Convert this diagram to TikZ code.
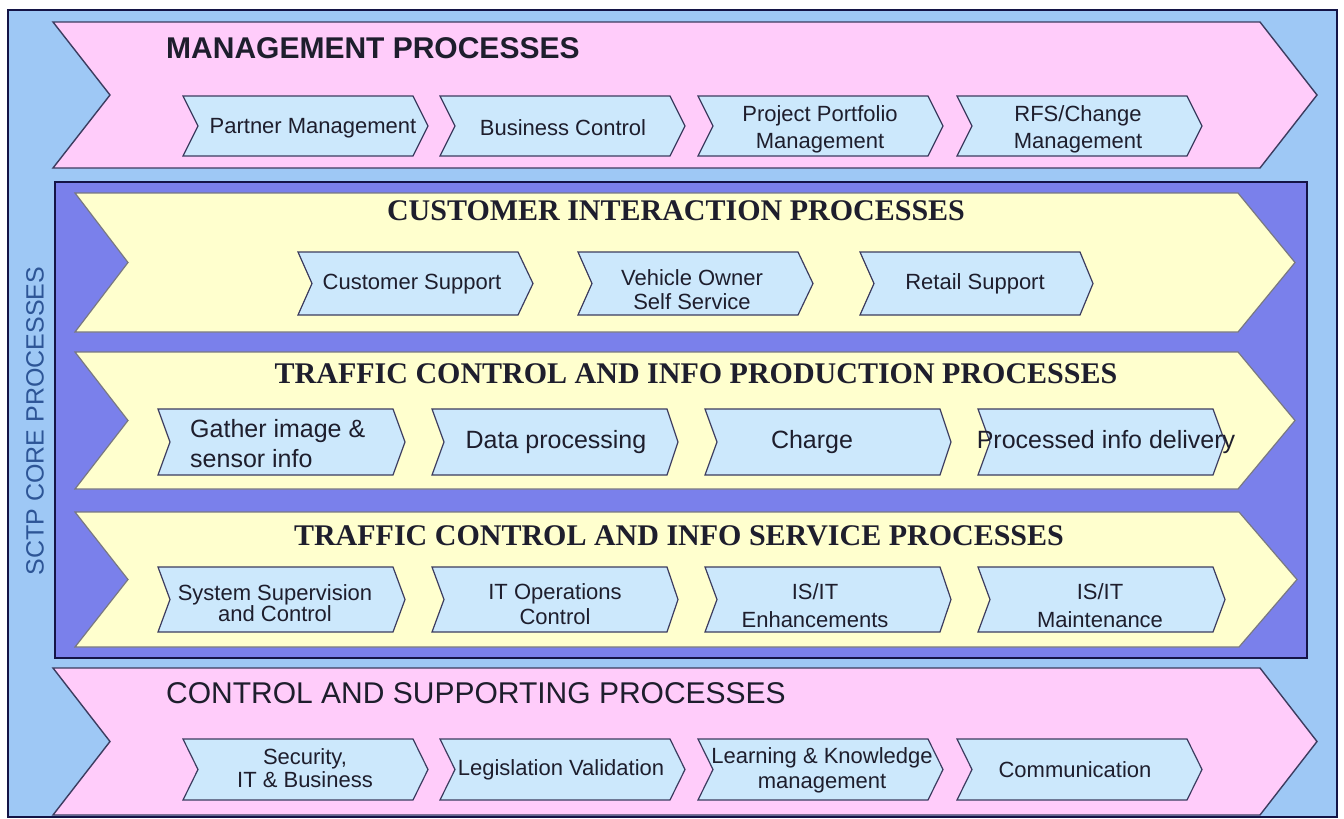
\documentclass[tikz,border=0pt]{standalone}
\usepackage{fontspec}
\setmainfont{Liberation Serif}
\setsansfont{Liberation Sans}
\definecolor{outerblue}{RGB}{158,200,245}
\definecolor{coreblue}{RGB}{122,128,235}
\definecolor{navy}{RGB}{20,20,70}
\definecolor{pinkband}{RGB}{255,204,250}
\definecolor{yellowband}{RGB}{255,255,206}
\definecolor{subfill}{RGB}{204,232,252}
\definecolor{edge}{RGB}{60,60,95}
\definecolor{yedge}{RGB}{120,120,130}
\definecolor{txt}{RGB}{30,30,45}
\definecolor{sctp}{RGB}{45,85,150}
% #1 style, #2 L, #3 R, #4 T, #5 B, #6 tip depth, #7 notch depth
\newcommand\chev[7][]{\draw[#1] (#2,#4) -- (#3,#4) -- ({#3+#6},{(#4+#5)/2}) -- (#3,#5) -- (#2,#5) -- ({#2+#7},{(#4+#5)/2}) -- cycle;}
\tikzset{
  pinkchev/.style={fill=pinkband, draw=edge, line width=1.4pt, line join=miter},
  yellowchev/.style={fill=yellowband, draw=yedge, line width=1.2pt},
  subchev/.style={fill=subfill, draw=edge, line width=1.2pt},
  sanstitle/.style={font=\sffamily\fontsize{30pt}{36pt}\selectfont, text=txt, inner sep=0pt},
  seriftitle/.style={font=\rmfamily\bfseries\fontsize{30pt}{36pt}\selectfont, text=txt, inner sep=0pt},
  subtxt/.style={font=\sffamily\fontsize{22pt}{27pt}\selectfont, text=txt, align=center, inner sep=0pt},
  subtxtb/.style={font=\sffamily\fontsize{25pt}{30pt}\selectfont, text=txt, align=center, inner sep=0pt},
}
\begin{document}
\begin{tikzpicture}[x=1pt,y=-1pt]
\useasboundingbox (0,0) rectangle (1344,819);
\fill[white] (0,0) rectangle (1344,819);
% outer frame
\draw[fill=outerblue, draw=navy, line width=2pt] (8,10) rectangle (1337,817);
% management band
\chev[pinkchev]{53}{1260}{22}{168}{57}{57}
\chev[subchev]{183}{413}{96}{156}{15}{15}
\chev[subchev]{440}{670}{96}{156}{15}{15}
\chev[subchev]{698}{928}{96}{156}{15}{15}
\chev[subchev]{957}{1187}{96}{156}{15}{15}
\node[sanstitle, font=\sffamily\bfseries\fontsize{30pt}{36pt}\selectfont, anchor=base west] (mgmt) at (166,58) {MANAGEMENT PROCESSES};
\node[subtxt] (pm) at (313,128) {Partner Management};
\node[subtxt] (bc) at (563,128) {Business Control};
\node[subtxt] (ppm) at (820,129) {Project Portfolio\\Management};
\node[subtxt] (rfs) at (1078,129) {RFS/Change\\Management};
% core box
\draw[fill=coreblue, draw=navy, line width=2pt] (55,182) rectangle (1307,658);
\node[font=\sffamily\fontsize{25pt}{30pt}\selectfont, text=sctp, rotate=90, inner sep=0pt] (core) at (35,421) {SCTP CORE PROCESSES};
% customer interaction
\chev[yellowchev]{75}{1238}{193}{332}{57}{53}
\chev[subchev]{298}{518}{252}{315}{15}{14}
\chev[subchev]{578}{798}{252}{315}{15}{14}
\chev[subchev]{860}{1080}{252}{315}{13}{14}
\node[seriftitle, anchor=base] (cust) at (676,220) {CUSTOMER INTERACTION PROCESSES};
\node[subtxt] (cs) at (412,284) {Customer Support};
\node[subtxt, font=\sffamily\fontsize{22pt}{24pt}\selectfont] (vo) at (692,290) {Vehicle Owner\\Self Service};
\node[subtxt] (rs) at (975,284) {Retail Support};
% production
\chev[yellowchev]{75}{1238}{352}{489}{57}{53}
\chev[subchev]{158}{393}{409}{475}{12}{12}
\chev[subchev]{432}{667}{409}{475}{11}{12}
\chev[subchev]{705}{940}{409}{475}{11}{12}
\chev[subchev]{978}{1213}{409}{475}{12}{12}
\node[seriftitle, anchor=base] (prod) at (696,383) {TRAFFIC CONTROL AND INFO PRODUCTION PROCESSES};
\node[subtxtb, align=left, anchor=west] (gi) at (190,444) {Gather image \&\\sensor info};
\node[subtxtb] (dp) at (556,442) {Data processing};
\node[subtxtb] (ch) at (812,442) {Charge};
\node[subtxtb] (pid) at (1106,442) {Processed info delivery};
% service
\chev[yellowchev]{75}{1239}{512}{647}{58}{53}
\chev[subchev]{158}{393}{567}{632}{12}{12}
\chev[subchev]{432}{667}{567}{632}{11}{12}
\chev[subchev]{705}{940}{567}{632}{11}{12}
\chev[subchev]{978}{1213}{567}{632}{12}{12}
\node[seriftitle, anchor=base] (serv) at (679,545) {TRAFFIC CONTROL AND INFO SERVICE PROCESSES};
\node[subtxt, font=\sffamily\fontsize{22pt}{16pt}\selectfont] (ssc) at (275,603) {System Supervision\\and Control};
\node[subtxt, font=\sffamily\fontsize{22pt}{25pt}\selectfont] (itoc) at (555,604) {IT Operations\\Control};
\node[subtxt, font=\sffamily\fontsize{22pt}{28pt}\selectfont] (isite) at (815,606) {IS/IT\\Enhancements};
\node[subtxt, font=\sffamily\fontsize{22pt}{28pt}\selectfont] (isitm) at (1100,606) {IS/IT\\Maintenance};
% control and supporting
\chev[pinkchev]{53}{1260}{668}{815}{57}{57}
\chev[subchev]{183}{413}{739}{800}{15}{15}
\chev[subchev]{440}{670}{739}{800}{15}{15}
\chev[subchev]{698}{928}{739}{800}{15}{15}
\chev[subchev]{957}{1187}{739}{800}{15}{15}
\node[sanstitle, anchor=base west] (ctrl) at (166,703) {CONTROL AND SUPPORTING PROCESSES};
\node[subtxt, font=\sffamily\fontsize{22pt}{23pt}\selectfont] (sec) at (305,768) {Security,\\IT \& Business};
\node[subtxt] (lv) at (561,770) {Legislation Validation};
\node[subtxt, font=\sffamily\fontsize{22pt}{25pt}\selectfont] (lkm) at (822,770) {Learning \& Knowledge\\management};
\node[subtxt] (com) at (1075,770) {Communication};
\end{tikzpicture}
\end{document}
